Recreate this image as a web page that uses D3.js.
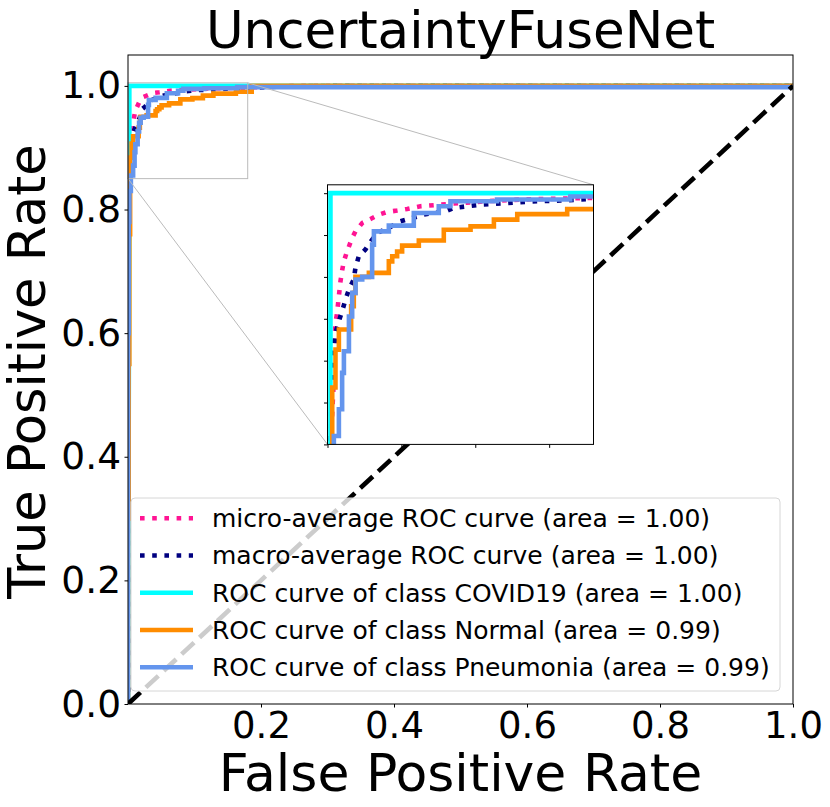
<!DOCTYPE html>
<html>
<head>
<meta charset="utf-8">
<script src="https://cdn.jsdelivr.net/npm/d3@7.9.0/dist/d3.min.js"></script>
<style>
  body { margin: 0; background: #fff; }
  svg { font-family: "DejaVu Sans", sans-serif; }
</style>
</head>
<body>
<svg id="chart" width="830" height="807"></svg>
<script>
// ROC data
const fprMicro = [0, 0, 0.0005, 0.001, 0.0015, 0.002, 0.0032, 0.0043, 0.0049, 0.0054, 0.0065, 0.0077, 0.0088, 0.01, 0.0111, 0.0133, 0.0167, 0.019, 0.0235, 0.0291, 0.0348, 0.0404, 0.0471, 0.0539, 0.0629, 0.0855, 0.108, 0.1306, 0.179, 0.21, 0.25, 1];
const tprMicro = [0, 0.4, 0.6, 0.75, 0.82, 0.85, 0.8689, 0.8888, 0.9107, 0.9226, 0.9286, 0.9385, 0.9475, 0.9544, 0.9594, 0.9654, 0.9733, 0.9773, 0.9822, 0.9846, 0.9872, 0.9888, 0.9896, 0.9906, 0.9922, 0.9938, 0.9952, 0.9962, 0.9972, 0.999, 1, 1];

const fprMacro = [0, 0, 0.0005, 0.001, 0.0015, 0.002, 0.0025, 0.0025, 0.0032, 0.0038, 0.0054, 0.0077, 0.0099, 0.0122, 0.0145, 0.0178, 0.0189, 0.0212, 0.0257, 0.0302, 0.0348, 0.0415, 0.0494, 0.0573, 0.0652, 0.072, 0.0787, 0.0855, 0.0945, 0.1036, 0.1171, 0.1306, 0.1419, 0.1577, 0.179, 0.23, 0.3, 1];
const tprMacro = [0, 0.3, 0.55, 0.72, 0.8, 0.85, 0.8609, 0.8729, 0.8888, 0.9027, 0.9166, 0.9236, 0.9296, 0.9365, 0.9425, 0.9485, 0.9554, 0.9624, 0.9664, 0.9723, 0.9767, 0.9793, 0.9832, 0.9852, 0.9872, 0.9882, 0.9888, 0.9912, 0.9922, 0.9932, 0.9938, 0.9946, 0.9952, 0.9956, 0.9966, 0.999, 1, 1];

const fprCovid = [0, 0.002, 0.002, 1];
const tprCovid = [0, 0.85, 1, 1];

const fprNormal = [0, 0, 0.001, 0.001, 0.002, 0.002, 0.0032, 0.0032, 0.0054, 0.0054, 0.0077, 0.0077, 0.016, 0.016, 0.0178, 0.0178, 0.0189, 0.0189, 0.028, 0.028, 0.0415, 0.0415, 0.0438, 0.0438, 0.0471, 0.0471, 0.0505, 0.0505, 0.0618, 0.0618, 0.0787, 0.0787, 0.0968, 0.0968, 0.1126, 0.1126, 0.1284, 0.1284, 0.1622, 0.1622, 0.186, 0.186, 1];
const tprNormal = [0, 0.3, 0.3, 0.55, 0.55, 0.76, 0.76, 0.884, 0.884, 0.9066, 0.9066, 0.9186, 0.9186, 0.9325, 0.9325, 0.9405, 0.9405, 0.95, 0.95, 0.9524, 0.9524, 0.9593, 0.9593, 0.9623, 0.9623, 0.9652, 0.9652, 0.9687, 0.9687, 0.9717, 0.9717, 0.9782, 0.9782, 0.9802, 0.9802, 0.9842, 0.9842, 0.9875, 0.9875, 0.9905, 0.9905, 1, 1];

const fprPneu = [0, 0, 0.001, 0.001, 0.002, 0.002, 0.0043, 0.0043, 0.0077, 0.0077, 0.0099, 0.0099, 0.0111, 0.0111, 0.0145, 0.0145, 0.0167, 0.0167, 0.019, 0.019, 0.0235, 0.0235, 0.0302, 0.0302, 0.0314, 0.0314, 0.0415, 0.0415, 0.0584, 0.0584, 0.0753, 0.0753, 0.0832, 0.0832, 0.1147, 0.1147, 0.1643, 0.1643, 1, 1];
const tprPneu = [0, 0.6, 0.6, 0.78, 0.78, 0.83, 0.83, 0.855, 0.855, 0.871, 0.871, 0.8927, 0.8927, 0.9056, 0.9056, 0.9264, 0.9264, 0.9405, 0.9405, 0.9485, 0.9485, 0.95, 0.95, 0.9693, 0.9693, 0.9772, 0.9772, 0.9806, 0.9806, 0.9882, 0.9882, 0.9922, 0.9922, 0.9952, 0.9952, 0.9962, 0.9962, 0.998, 0.998, 1];

const labels = [
  'micro-average ROC curve (area = 1.00)',
  'macro-average ROC curve (area = 1.00)',
  'ROC curve of class COVID19 (area = 1.00)',
  'ROC curve of class Normal (area = 0.99)',
  'ROC curve of class Pneumonia (area = 0.99)'
];
const xTicks = [0.2, 0.4, 0.6, 0.8, 1.0];
const yTicks = [0.0, 0.2, 0.4, 0.6, 0.8, 1.0];

const series = [
  { fpr: fprMicro, tpr: tprMicro, color: 'deeppink', dotted: true },
  { fpr: fprMacro, tpr: tprMacro, color: 'navy', dotted: true },
  { fpr: fprCovid, tpr: tprCovid, color: 'aqua', dotted: false },
  { fpr: fprNormal, tpr: tprNormal, color: 'darkorange', dotted: false },
  { fpr: fprPneu, tpr: tprPneu, color: 'cornflowerblue', dotted: false }
];

const svg = d3.select('#chart');
const lw = 4.6;

// main axes
const L = 128, R = 793, T = 55, B = 704;
const x = d3.scaleLinear().domain([0, 1]).range([L, R]);
const y = d3.scaleLinear().domain([0, 1.05]).range([B, T]);

svg.append('clipPath').attr('id', 'clipMain')
  .append('rect').attr('x', L).attr('y', T).attr('width', R - L).attr('height', B - T);

function drawCurves(g, xs, ys) {
  let line = d3.line().x((d) => xs(d[0])).y((d) => ys(d[1]));
  series.forEach((s) => {
    g.append('path')
      .attr('d', line(s.fpr.map((f, i) => [f, s.tpr[i]])))
      .attr('fill', 'none')
      .attr('stroke', s.color)
      .attr('stroke-width', lw)
      .attr('stroke-dasharray', s.dotted ? '4.6 7.6' : null)
      .attr('stroke-linejoin', 'miter');
  });
}

const main = svg.append('g').attr('clip-path', 'url(#clipMain)');
drawCurves(main, x, y);

// chance line
main.append('line')
  .attr('x1', x(0)).attr('y1', y(0)).attr('x2', x(1)).attr('y2', y(1))
  .attr('stroke', 'black').attr('stroke-width', lw)
  .attr('stroke-dasharray', '17 7.4');

// zoom region marker
const zx0 = 0, zx1 = 0.18, zy0 = 0.85, zy1 = 1.005;
svg.append('rect')
  .attr('x', x(zx0)).attr('y', y(zy1))
  .attr('width', x(zx1) - x(zx0)).attr('height', y(zy0) - y(zy1))
  .attr('fill', 'none').attr('stroke', '#bbb').attr('stroke-width', 1);

// inset axes at [0.3, 0.4, 0.4, 0.4] of main axes
const iL = L + 0.3 * (R - L), iR = L + 0.7 * (R - L);
const iB = B - 0.4 * (B - T), iT = B - 0.8 * (B - T);
const xi = d3.scaleLinear().domain([zx0, zx1]).range([iL, iR]);
const yi = d3.scaleLinear().domain([zy0, zy1]).range([iB, iT]);

svg.append('line')
  .attr('x1', x(zx1)).attr('y1', y(zy1)).attr('x2', iR).attr('y2', iT)
  .attr('stroke', '#bbb').attr('stroke-width', 1);
svg.append('line')
  .attr('x1', x(zx0)).attr('y1', y(zy0)).attr('x2', iL).attr('y2', iB)
  .attr('stroke', '#bbb').attr('stroke-width', 1);

svg.append('rect').attr('x', iL).attr('y', iT).attr('width', iR - iL).attr('height', iB - iT).attr('fill', 'white');
svg.append('clipPath').attr('id', 'clipInset')
  .append('rect').attr('x', iL).attr('y', iT).attr('width', iR - iL).attr('height', iB - iT);
const inset = svg.append('g').attr('clip-path', 'url(#clipInset)');
drawCurves(inset, xi, yi);

svg.append('g').attr('transform', `translate(0,${iB})`)
  .call(d3.axisBottom(xi).tickValues([0, 0.05, 0.1, 0.15]).tickSize(3.5).tickFormat(''))
  .call((g) => g.select('.domain').remove());
svg.append('g').attr('transform', `translate(${iL},0)`)
  .call(d3.axisLeft(yi).tickValues([0.85, 0.875, 0.9, 0.925, 0.95, 0.975, 1.0]).tickSize(3.5).tickFormat(''))
  .call((g) => g.select('.domain').remove());
svg.append('rect').attr('x', iL).attr('y', iT).attr('width', iR - iL).attr('height', iB - iT)
  .attr('fill', 'none').attr('stroke', 'black').attr('stroke-width', 1);

// legend
const legX = 131, legY = 498, legW = 649, legH = 193;
svg.append('rect')
  .attr('x', legX).attr('y', legY).attr('width', legW).attr('height', legH)
  .attr('rx', 4)
  .attr('fill', 'white').attr('fill-opacity', 0.8)
  .attr('stroke', '#d6d6d6').attr('stroke-width', 1);

labels.forEach((lab, i) => {
  let ry = 518.3 + i * 37.25;
  svg.append('line')
    .attr('x1', 140).attr('x2', 193).attr('y1', ry).attr('y2', ry)
    .attr('stroke', series[i].color).attr('stroke-width', lw)
    .attr('stroke-dasharray', series[i].dotted ? '4.6 7.6' : null);
  svg.append('text')
    .attr('x', 212).attr('y', ry).attr('dy', '0.35em')
    .attr('font-size', 25).attr('fill', 'black')
    .text(lab);
});

// main spines and ticks
svg.append('rect').attr('x', L).attr('y', T).attr('width', R - L).attr('height', B - T)
  .attr('fill', 'none').attr('stroke', 'black').attr('stroke-width', 1);

const xAxis = svg.append('g').attr('transform', `translate(0,${B})`)
  .call(d3.axisBottom(x).tickValues(xTicks).tickSize(3.5).tickPadding(4).tickFormat(d3.format('.1f')));
xAxis.select('.domain').remove();
xAxis.selectAll('text').attr('font-size', 37).attr('fill', 'black').attr('font-family', 'DejaVu Sans');

const yAxis = svg.append('g').attr('transform', `translate(${L},0)`)
  .call(d3.axisLeft(y).tickValues(yTicks).tickSize(3.5).tickPadding(3.5).tickFormat(d3.format('.1f')));
yAxis.select('.domain').remove();
yAxis.selectAll('text').attr('font-size', 37.5).attr('fill', 'black').attr('font-family', 'DejaVu Sans');

// titles
svg.append('text')
  .attr('x', (L + R) / 2).attr('y', 48)
  .attr('text-anchor', 'middle').attr('font-size', 51.5)
  .text('UncertaintyFuseNet');

svg.append('text')
  .attr('x', (L + R) / 2).attr('y', 791)
  .attr('text-anchor', 'middle').attr('font-size', 52)
  .text('False Positive Rate');

svg.append('text')
  .attr('transform', `translate(45,${(T + B) / 2 - 8}) rotate(-90)`)
  .attr('text-anchor', 'middle').attr('font-size', 51)
  .text('True Positive Rate');
</script>
</body>
</html>
